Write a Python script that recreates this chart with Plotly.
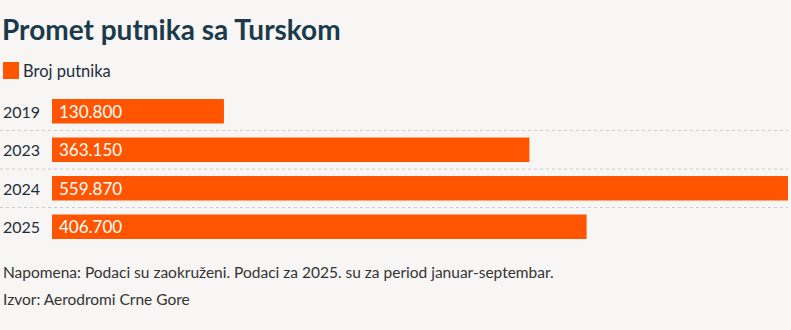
import plotly.graph_objects as go

# Passenger traffic with Turkey
years = ["2019", "2023", "2024", "2025"]
passengers = [130800, 363150, 559870, 406700]

BG = "#f7f6f4"
ORANGE = "#ff5500"
TITLE_C = "#1b3a4b"
TEXT_C = "#1f2d3a"
FONT = "Lato"

W, H = 791, 330
ML, MR, MT, MB = 52, 3, 92, 84
plot_w = W - ML - MR
ph = H - MT - MB
left_paper = -(ML - 1) / plot_w  # left page edge used for row labels


def fmt(v):
    return f"{v:,}".replace(",", ".")


def py(px):
    """Page pixel row to paper y."""
    return 1 - (px - MT) / ph


pos = list(range(len(years)))

fig = go.Figure(
    go.Bar(
        x=passengers,
        y=pos,
        orientation="h",
        marker=dict(color=ORANGE, line=dict(width=0)),
        width=0.64,
        hoverinfo="skip",
    )
)

annotations = []
shapes = []
for i, (yr, v) in enumerate(zip(years, passengers)):
    annotations.append(dict(
        x=left_paper, xref="paper", y=i, yref="y", text=yr,
        xanchor="left", yanchor="middle", showarrow=False,
        font=dict(family=FONT, size=16, color=TEXT_C),
    ))
    annotations.append(dict(
        x=0, xref="x", y=i, yref="y", text=fmt(v),
        xanchor="left", yanchor="middle", xshift=5, showarrow=False,
        font=dict(family=FONT, size=17, color="white"),
    ))

# dotted row separators
for i in range(len(years) - 1):
    shapes.append(dict(
        type="line", xref="paper", yref="y",
        x0=-ML / plot_w, x1=1, y0=i + 0.5, y1=i + 0.5,
        line=dict(color="#cfcdca", width=1, dash="dot"),
    ))

# legend swatch and label
shapes.append(dict(
    type="rect", xref="paper", yref="paper",
    x0=-(ML - 3) / plot_w, x1=-(ML - 19) / plot_w,
    y0=py(79), y1=py(62),
    fillcolor=ORANGE, line=dict(width=0),
))
annotations.append(dict(
    x=-(ML - 21) / plot_w, xref="paper", y=py(70.5), yref="paper",
    text="Broj putnika", xanchor="left", yanchor="middle", showarrow=False,
    font=dict(family=FONT, size=16.5, color=TEXT_C),
))

# notes
for txt, ypx in [
    ("Napomena: Podaci su zaokruženi. Podaci za 2025. su za period januar-septembar.", 272),
    ("Izvor: Aerodromi Crne Gore", 299),
]:
    annotations.append(dict(
        x=left_paper, xref="paper", y=py(ypx), yref="paper", text=txt,
        showarrow=False, xanchor="left", yanchor="middle",
        font=dict(family=FONT, size=15.5, color="#333333"),
    ))

fig.update_layout(
    width=W, height=H,
    margin=dict(l=ML, r=MR, t=MT, b=MB),
    paper_bgcolor=BG, plot_bgcolor=BG,
    showlegend=False,
    title=dict(
        text="<b>Promet putnika sa Turskom</b>",
        x=2 / W, xanchor="left", y=1 - 30 / H, yanchor="middle",
        font=dict(family=FONT, size=28, color=TITLE_C),
    ),
    xaxis=dict(range=[0, max(passengers)], visible=False, fixedrange=True),
    yaxis=dict(range=[len(years) - 0.5, -0.5], visible=False, fixedrange=True),
    annotations=annotations,
    shapes=shapes,
)

fig.write_html("out.html")
